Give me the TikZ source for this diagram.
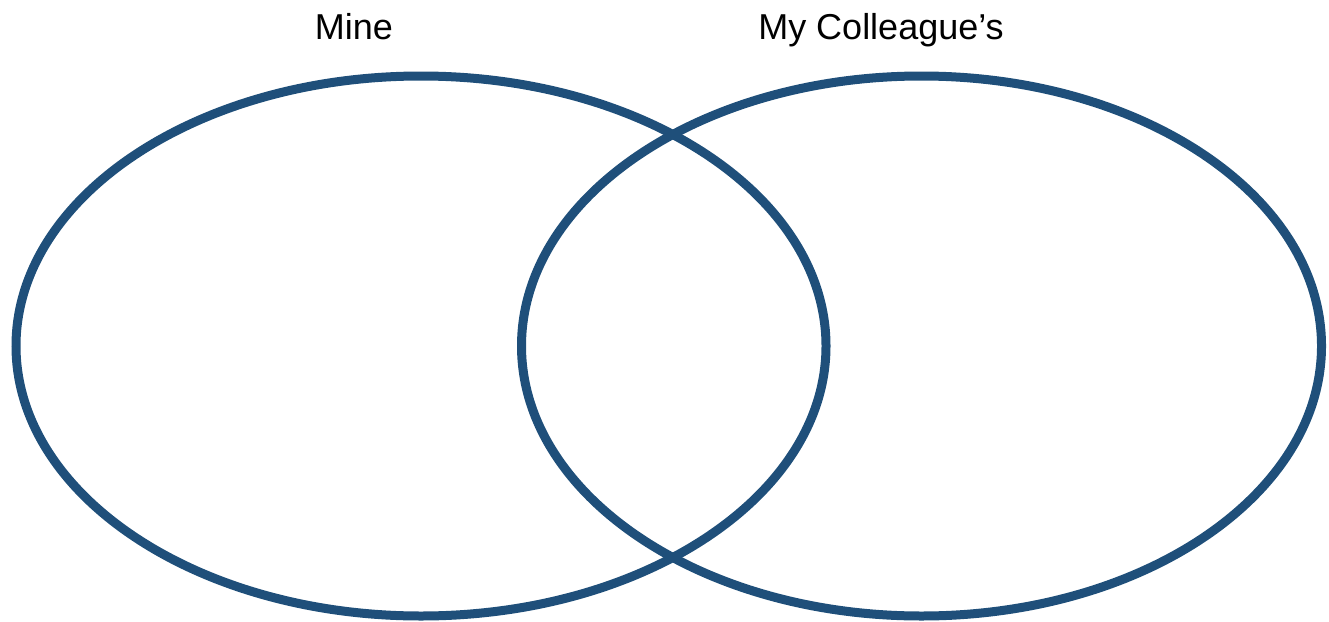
\documentclass[tikz,border=0pt]{standalone}
\usepackage{fontspec}
\setmainfont{Liberation Sans}
\usetikzlibrary{shapes.geometric}
\definecolor{vennblue}{RGB}{31,79,122}

\begin{document}
\begin{tikzpicture}[
  x=1pt, y=-1pt,
  setring/.style={ellipse, draw=vennblue, line width=9pt, inner sep=0pt, minimum height=540pt},
  setlabel/.style={anchor=base, font=\fontsize{36}{40}\selectfont, inner sep=0pt},
]
\useasboundingbox (0,0) rectangle (1329,621);

% the two sets
\node[setring, minimum width=810pt] (mine) at (421,346) {};
\node[setring, minimum width=800pt] (coll) at (921.5,346) {};

% titles
\node[setlabel] (minelbl) at (354,39) {Mine};
\node[setlabel] (colllbl) at (881,39) {My Colleague’s};

\end{tikzpicture}
\end{document}
